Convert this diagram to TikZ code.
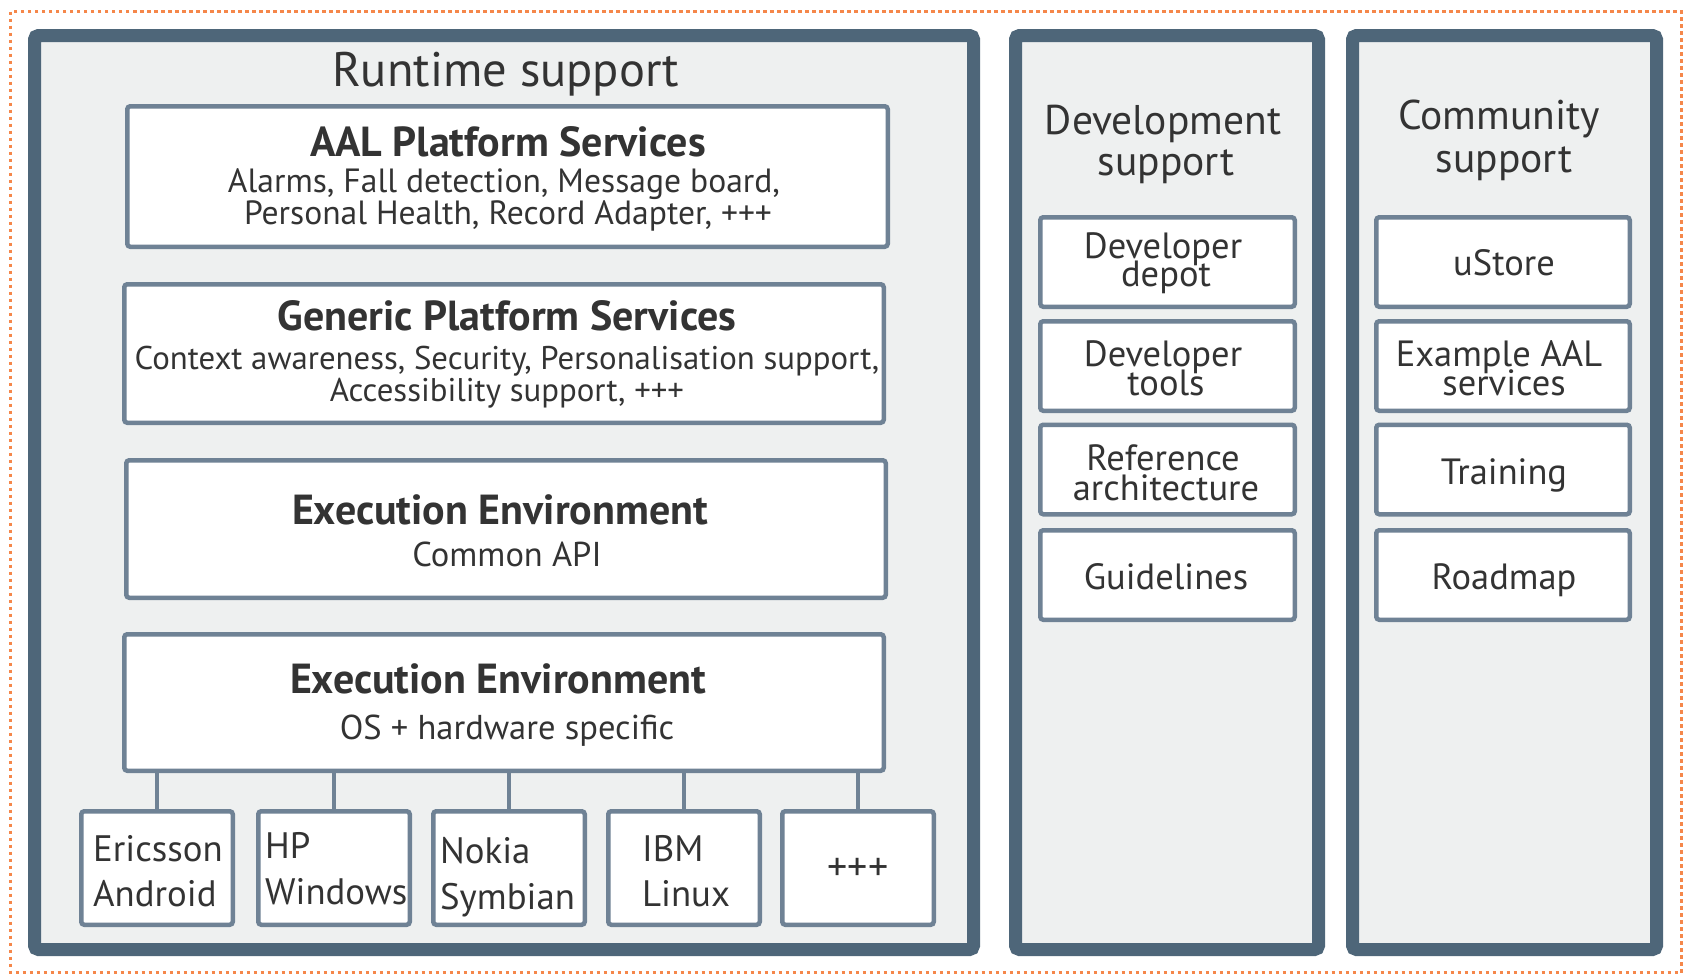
\documentclass[tikz,border=0pt]{standalone}
\usepackage{fontspec}
\setmainfont{PT Sans}
\definecolor{frame}{HTML}{4E6679}
\definecolor{panel}{HTML}{EEF0F0}
\definecolor{iborder}{HTML}{6F8295}
\definecolor{dots}{HTML}{F5874A}
\definecolor{ink}{HTML}{333333}
\tikzset{
  panelbox/.style={draw=frame, line width=13pt, fill=panel, rounded corners=4pt, inner sep=0pt},
  ibox/.style={draw=iborder, line width=4.5pt, fill=white, rounded corners=3pt, inner sep=0pt},
  stem/.style={draw=iborder, line width=4pt},
  txt/.style={text=ink, inner sep=0pt, anchor=base},
  ltxt/.style={text=ink, inner sep=0pt, anchor=base west},
  bigtitle/.style={txt, font=\fontsize{48.5}{52}\selectfont},
  coltitle/.style={txt, font=\fontsize{41.5}{45}\selectfont},
  boxtitle/.style={txt, font=\bfseries\fontsize{42}{46}\selectfont},
  aaldetail/.style={txt, font=\fontsize{33.6}{36}\selectfont},
  gpsdetail/.style={txt, font=\fontsize{32.8}{36}\selectfont},
  eedetail/.style={txt, font=\fontsize{34.5}{38}\selectfont},
  itemtxt/.style={txt, font=\fontsize{36.5}{40}\selectfont},
  plattxt/.style={ltxt, font=\fontsize{36.8}{40}\selectfont},
}
\begin{document}
\begin{tikzpicture}[x=1pt,y=-1pt]
\useasboundingbox (0,0) rectangle (1687,978);
% dotted frame
\draw[dots, line width=3.5pt, dash pattern=on 3.5pt off 3.5pt] (10.5,11.5) rectangle (1681.5,972.5);
% panels
\node[panelbox, minimum width=939pt, minimum height=914pt] (runtime) at (504,492.5) {};
\node[panelbox, minimum width=303pt, minimum height=914pt] (dev) at (1167,492.5) {};
\node[panelbox, minimum width=304pt, minimum height=914pt] (comm) at (1504.5,492.5) {};
% panel titles
\node[bigtitle] (rtitle) at (506,86) {Runtime support};
\node[coltitle] (dtitle1) at (1163,134) {Development};
\node[coltitle] (dtitle2) at (1166,175) {support};
\node[coltitle] (ctitle1) at (1499,129) {Community};
\node[coltitle] (ctitle2) at (1504,172) {support};
% runtime layers
\node[ibox, minimum width=760.5pt, minimum height=140.5pt] (aal) at (507.5,176.5) {};
\node[ibox, minimum width=759.5pt, minimum height=138.5pt] (gps) at (504,353.5) {};
\node[ibox, minimum width=759.5pt, minimum height=137.5pt] (ee1) at (506,529) {};
\node[ibox, minimum width=759.5pt, minimum height=136.5pt] (ee2) at (504,702.5) {};
\node[boxtitle] (aalt) at (508,156) {AAL Platform Services};
\node[aaldetail] (aald1) at (504,192) {Alarms, Fall detection, Message board,};
\node[aaldetail] (aald2) at (508,224) {Personal Health, Record Adapter, +++};
\node[boxtitle] (gpst) at (507,330) {Generic Platform Services};
\node[gpsdetail] (gpsd1) at (507,369) {Context awareness, Security, Personalisation support,};
\node[gpsdetail] (gpsd2) at (507,401) {Accessibility support, +++};
\node[boxtitle] (ee1t) at (500,524) {Execution Environment};
\node[eedetail] (ee1d) at (507,566) {Common API};
\node[boxtitle] (ee2t) at (498,693) {Execution Environment};
\node[eedetail] (ee2d) at (507,739) {OS + hardware specific};
% platforms
\foreach \n/\cx in {eric/157, hp/334, nokia/509, ibm/684, more/858}{
  \node[ibox, minimum width=151.5pt, minimum height=113.5pt] (\n) at (\cx,868) {};
  \draw[stem] (\n.north) -- (\n.north |- ee2.south);
}
\node[plattxt] (eric1) at (93,861) {Ericsson};
\node[plattxt] (eric2) at (93,906) {Android};
\node[plattxt] (hp1) at (265,858) {HP};
\node[plattxt] (hp2) at (265,904) {Windows};
\node[plattxt] (nok1) at (440,863) {Nokia};
\node[plattxt] (nok2) at (440,909) {Symbian};
\node[plattxt] (ibm1) at (642,861) {IBM};
\node[plattxt] (ibm2) at (642,906) {Linux};
\node[txt, font=\fontsize{40}{44}\selectfont, anchor=center] (moret) at (858,869) {+++};
% development items
\foreach \n/\cy in {d1/262, d2/366, d3/469.5, d4/575}{
  \node[ibox, minimum width=254.5pt, minimum height=89.5pt] (\n) at (1167.5,\cy) {};
}
\foreach \n/\cy in {c1/262, c2/366, c3/469.5, c4/575}{
  \node[ibox, minimum width=253.5pt, minimum height=89.5pt] (\n) at (1503,\cy) {};
}
\node[itemtxt] (d1a) at (1163,258) {Developer};
\node[itemtxt] (d1b) at (1166,286) {depot};
\node[itemtxt] (d2a) at (1163,366) {Developer};
\node[itemtxt] (d2b) at (1166,395) {tools};
\node[itemtxt] (d3a) at (1163,470) {Reference};
\node[itemtxt] (d3b) at (1166,500) {architecture};
\node[itemtxt] (d4a) at (1166,589) {Guidelines};
\node[itemtxt] (c1a) at (1504,275) {uStore};
\node[itemtxt] (c2a) at (1499,366) {Example AAL};
\node[itemtxt] (c2b) at (1504,395) {services};
\node[itemtxt] (c3a) at (1504,484) {Training};
\node[itemtxt] (c4a) at (1504,589) {Roadmap};
\end{tikzpicture}
\end{document}
